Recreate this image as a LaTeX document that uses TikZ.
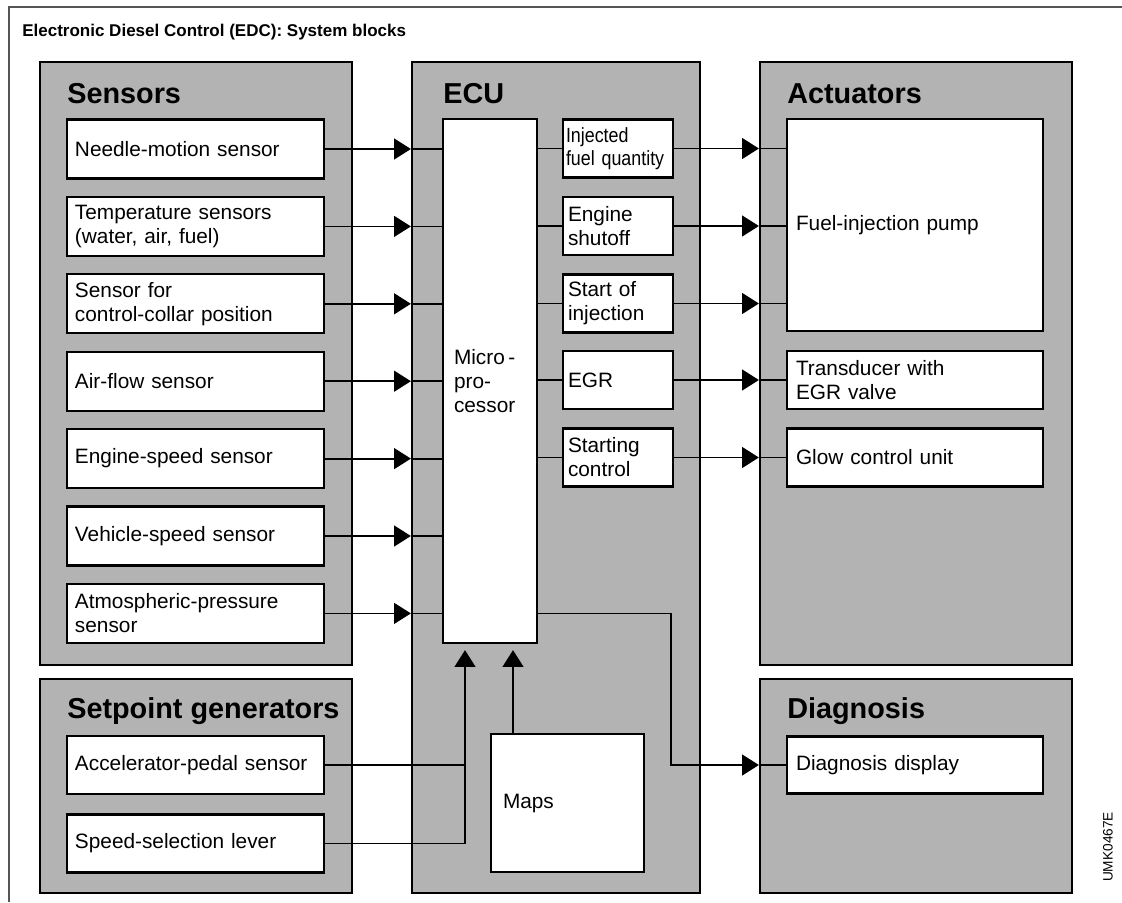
\documentclass[tikz,border=0pt]{standalone}
\usepackage{fontspec}
\setmainfont{Liberation Sans}
\newfontfamily\condensed[FakeStretch=0.87]{Liberation Sans}
\usetikzlibrary{arrows.meta, calc}
\definecolor{panelgray}{HTML}{B3B3B3}
\definecolor{framegray}{HTML}{555555}
\newcommand{\bodyfont}{\fontsize{14.8}{17.1}\selectfont}
\newcommand{\narrowfont}{\condensed\fontsize{14.6}{16.4}\selectfont}

\begin{document}
\hyphenpenalty=10000
\exhyphenpenalty=10000
\begin{tikzpicture}[
  x=0.25mm, y=-0.25mm,
  >={Triangle[length=4.2mm, width=5.2mm]},
  panel/.style={draw=black, line width=0.55mm, fill=panelgray, inner sep=0pt},
  head/.style={anchor=base west, inner sep=0pt, font=\fontsize{20.5}{25}\selectfont\bfseries},
  blk/.style={draw=black, line width=0.55mm, fill=white, align=left,
    inner ysep=0pt, font=\bodyfont},
  sensbox/.style={blk, inner xsep=2mm, text width=60.25mm, minimum height=14.75mm},
  outbox/.style={blk, inner xsep=1.25mm, text width=25mm, minimum height=14.5mm},
  actbox/.style={blk, inner xsep=2.25mm, text width=59.5mm, minimum height=14.5mm},
  arr/.style={->, line width=0.45mm, black},
  ln/.style={line width=0.45mm, black},
]

\useasboundingbox (0,0) rectangle (1122,902);

% Frame and title
\draw[framegray, line width=0.5mm] (1122,7) -- (9,7) -- (9,902);
\node[anchor=base west, inner sep=0pt, font=\fontsize{12.1}{14}\selectfont\bfseries]
  (title) at (22,36) {Electronic Diesel Control (EDC): System blocks};

% =============================================
% Panels
% =============================================
\node[panel, minimum width=78mm, minimum height=150.75mm] (sensors) at (196,363.5) {};
\node[panel, minimum width=78mm, minimum height=53.5mm] (setpoint) at (196,786) {};
\node[panel, minimum width=72mm, minimum height=207.75mm] (ecu) at (556,477.5) {};
\node[panel, minimum width=78mm, minimum height=150.75mm] (actuators) at (916,363.5) {};
\node[panel, minimum width=78mm, minimum height=53.5mm] (diagnosis) at (916,786) {};

\node[head] (sensors-title) at (67,103) {Sensors};
\node[head] (setpoint-title) at (67,718) {Setpoint generators};
\node[head] (ecu-title) at (443,103) {ECU};
\node[head] (actuators-title) at (787,103) {Actuators};
\node[head] (diagnosis-title) at (787,718) {Diagnosis};

% =============================================
% Sensors (left)
% =============================================
\node[sensbox] (needle) at (195.5,149) {Needle-motion sensor};
\node[sensbox] (temp) at (195.5,226.4) {Temperature sensors\\(water, air, fuel)};
\node[sensbox] (collar) at (195.5,303.8) {Sensor for\\control-collar position};
\node[sensbox] (airflow) at (195.5,381.2) {Air-flow sensor};
\node[sensbox] (engspeed) at (195.5,458.6) {Engine-speed sensor};
\node[sensbox] (vehspeed) at (195.5,536) {Vehicle-speed sensor};
\node[sensbox] (atmos) at (195.5,613.4) {Atmospheric-pressure\\sensor};

% Setpoint generators
\node[sensbox, minimum height=14.5mm] (pedal) at (195.5,765) {Accelerator-pedal sensor};
\node[sensbox, minimum height=14.5mm] (lever) at (195.5,843.5) {Speed-selection lever};

% =============================================
% ECU (middle)
% =============================================
\node[blk, inner xsep=2.75mm, text width=18mm, minimum height=131mm]
  (micro) at (490,381) {Micro\,-\\pro-\\cessor};

\node[outbox, font=\narrowfont, inner xsep=0.75mm, text width=26mm]
  (injq) at (618,148.5) {Injected\\fuel quantity};
\node[outbox] (shutoff) at (618,226) {Engine\\shutoff};
\node[outbox] (soi) at (618,303.5) {Start of\\injection};
\node[outbox] (egr) at (618,380) {EGR};
\node[outbox] (startctl) at (618,457.5) {Starting\\control};

\node[blk, inner xsep=3mm, text width=32.25mm, minimum height=34.5mm]
  (maps) at (567.5,803) {Maps};

% =============================================
% Actuators and diagnosis (right)
% =============================================
\node[actbox, minimum height=53mm] (pump) at (915,225) {Fuel-injection pump};
\node[actbox] (egrvalve) at (915,380) {Transducer with\\EGR valve};
\node[actbox] (glow) at (915,457.5) {Glow control unit};
\node[actbox, minimum height=14.25mm] (display) at (915,765) {Diagnosis display};

\node[rotate=90, inner sep=0pt, font=\fontsize{9.7}{11}\selectfont]
  (code) at (1108,847) {UMK0467E};

% =============================================
% Arrows
% =============================================

% Sensors -> microprocessor
\draw[arr] (needle.east) -- (needle.east -| ecu.west);
\draw[ln] (needle.east -| ecu.west) -- (needle.east -| micro.west);
\draw[arr] (temp.east) -- (temp.east -| ecu.west);
\draw[ln] (temp.east -| ecu.west) -- (temp.east -| micro.west);
\draw[arr] (collar.east) -- (collar.east -| ecu.west);
\draw[ln] (collar.east -| ecu.west) -- (collar.east -| micro.west);
\draw[arr] (airflow.east) -- (airflow.east -| ecu.west);
\draw[ln] (airflow.east -| ecu.west) -- (airflow.east -| micro.west);
\draw[arr] (engspeed.east) -- (engspeed.east -| ecu.west);
\draw[ln] (engspeed.east -| ecu.west) -- (engspeed.east -| micro.west);
\draw[arr] (vehspeed.east) -- (vehspeed.east -| ecu.west);
\draw[ln] (vehspeed.east -| ecu.west) -- (vehspeed.east -| micro.west);
\draw[arr] (atmos.east) -- (atmos.east -| ecu.west);
\draw[ln] (atmos.east -| ecu.west) -- (atmos.east -| micro.west);

% Microprocessor -> output stages
\draw[ln] (injq.west -| micro.east) -- (injq.west);
\draw[ln] (shutoff.west -| micro.east) -- (shutoff.west);
\draw[ln] (soi.west -| micro.east) -- (soi.west);
\draw[ln] (egr.west -| micro.east) -- (egr.west);
\draw[ln] (startctl.west -| micro.east) -- (startctl.west);

% Output stages -> actuators
\draw[arr] (injq.east) -- (injq.east -| actuators.west);
\draw[ln] (injq.east -| actuators.west) -- (injq.east -| pump.west);
\draw[arr] (shutoff.east) -- (shutoff.east -| actuators.west);
\draw[ln] (shutoff.east -| actuators.west) -- (shutoff.east -| pump.west);
\draw[arr] (soi.east) -- (soi.east -| actuators.west);
\draw[ln] (soi.east -| actuators.west) -- (soi.east -| pump.west);
\draw[arr] (egr.east) -- (egr.east -| actuators.west);
\draw[ln] (egr.east -| actuators.west) -- (egr.east -| egrvalve.west);
\draw[arr] (startctl.east) -- (startctl.east -| actuators.west);
\draw[ln] (startctl.east -| actuators.west) -- (startctl.east -| glow.west);

% Microprocessor -> diagnosis
\coordinate (bend) at (671,0);
\draw[arr] (atmos.east -| micro.east) -- (bend |- atmos.east) |- (display.west -| diagnosis.west);
\draw[ln] (display.west -| diagnosis.west) -- (display.west);

% Setpoint generators and maps -> microprocessor
\coordinate (join) at (465,0);
\coordinate (mapin) at (513,0);
\draw[ln] (pedal.east) -- (pedal.east -| join);
\draw[arr] (lever.east) -| ([yshift=-1.5mm]join |- micro.south);
\draw[arr] (mapin |- maps.north) -- ([yshift=-1.5mm]mapin |- micro.south);

\end{tikzpicture}
\end{document}
